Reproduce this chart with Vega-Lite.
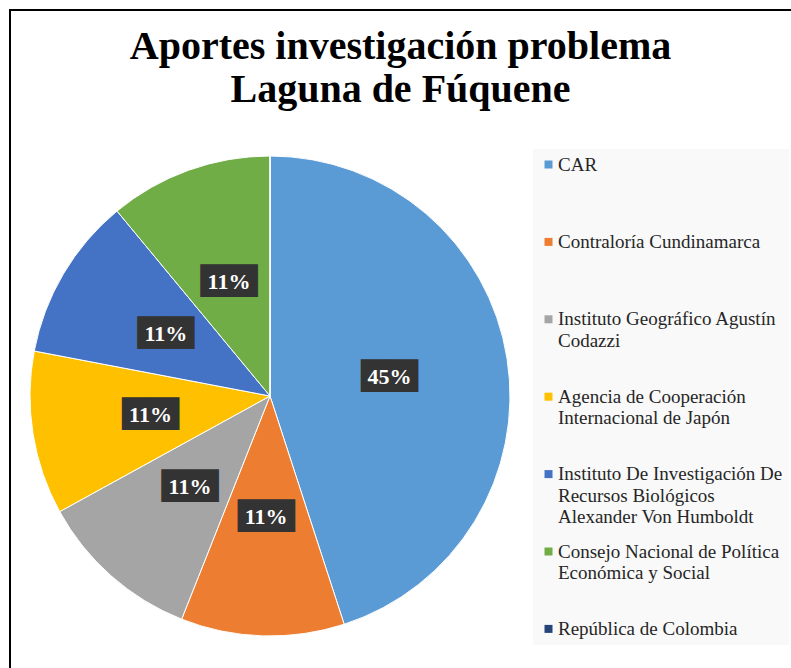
{
  "$schema": "https://vega.github.io/schema/vega-lite/v6.json",
  "width": 781,
  "height": 658,
  "autosize": {"type": "none"},
  "padding": {"left": 10, "top": 10, "right": 0, "bottom": 0},
  "background": "white",
  "view": {"stroke": "#000000", "strokeWidth": 2, "strokeDash": [781, 1439, 658], "strokeCap": "square"},
  "title": {
    "text": ["Aportes investigación problema", "Laguna de Fúquene"],
    "font": "Liberation Serif",
    "fontSize": 40,
    "fontWeight": "bold",
    "color": "#000000",
    "lineHeight": 43,
    "anchor": "middle",
    "frame": "group",
    "offset": -100
  },
  "config": {
    "style": {"guide-label": {"lineHeight": 21.5}}
  },
  "data": {
    "values": [
      {"idx": 1, "entidad": "CAR", "pct": 0.45},
      {"idx": 2, "entidad": "Contraloría Cundinamarca", "pct": 0.11},
      {"idx": 3, "entidad": "Instituto Geográfico Agustín Codazzi", "pct": 0.11},
      {"idx": 4, "entidad": "Agencia de Cooperación Internacional de Japón", "pct": 0.11},
      {"idx": 5, "entidad": "Instituto De Investigación De Recursos Biológicos Alexander Von Humboldt", "pct": 0.11},
      {"idx": 6, "entidad": "Consejo Nacional de Política Económica y Social", "pct": 0.11},
      {"idx": 7, "entidad": "República de Colombia", "pct": 0}
    ]
  },
  "encoding": {
    "theta": {"field": "pct", "type": "quantitative", "stack": true},
    "order": {"field": "idx", "type": "quantitative"}
  },
  "layer": [
    {
      "mark": {"type": "arc", "x": 260, "y": 386, "outerRadius": 240, "stroke": "#ffffff", "strokeWidth": 1},
      "encoding": {
        "color": {
          "field": "entidad",
          "type": "nominal",
          "scale": {
            "domain": ["CAR", "Contraloría Cundinamarca", "Instituto Geográfico Agustín Codazzi", "Agencia de Cooperación Internacional de Japón", "Instituto De Investigación De Recursos Biológicos Alexander Von Humboldt", "Consejo Nacional de Política Económica y Social", "República de Colombia"],
            "range": ["#5B9BD5", "#ED7D31", "#A5A5A5", "#FFC000", "#4472C4", "#70AD47", "#264478"]
          },
          "legend": {
            "orient": "none",
            "legendX": 523,
            "legendY": 139,
            "title": null,
            "padding": 6,
            "fillColor": "#f9f9f9",
            "symbolType": "square",
            "symbolSize": 64,
            "symbolStrokeWidth": 0,
            "labelFont": "Liberation Serif",
            "labelFontSize": 19,
            "labelColor": "#262626",
            "labelLimit": 300,
            "labelOffset": 0,
            "labelBaseline": "middle",
            "rowPadding": 14.4,
            "labelExpr": "datum.label == 'Instituto Geográfico Agustín Codazzi' ? ['Instituto Geográfico Agustín', 'Codazzi', ''] : datum.label == 'Agencia de Cooperación Internacional de Japón' ? ['Agencia de Cooperación', 'Internacional de Japón', ''] : datum.label == 'Instituto De Investigación De Recursos Biológicos Alexander Von Humboldt' ? ['Instituto De Investigación De', 'Recursos Biológicos', 'Alexander Von Humboldt'] : datum.label == 'Consejo Nacional de Política Económica y Social' ? ['Consejo Nacional de Política', 'Económica y Social', ''] : datum.label == 'República de Colombia' ? datum.label : [datum.label, '', '']"
          }
        }
      }
    },
    {
      "transform": [{"filter": "datum.pct > 0"}],
      "mark": {"type": "text", "x": 260, "y": 386, "radius": 121, "text": "▆▆", "font": "DejaVu Sans", "fontSize": 37, "dy": -5, "fill": "#333333"},
      "encoding": {"detail": {"field": "entidad", "type": "nominal"}}
    },
    {
      "transform": [{"filter": "datum.pct > 0"}],
      "mark": {"type": "text", "x": 260, "y": 386, "radius": 121, "font": "Liberation Serif", "fontSize": 22, "fontWeight": "bold", "fill": "#ffffff"},
      "encoding": {
        "detail": {"field": "entidad", "type": "nominal"},
        "text": {"field": "pct", "type": "quantitative", "format": ".0%"}
      }
    }
  ]
}
